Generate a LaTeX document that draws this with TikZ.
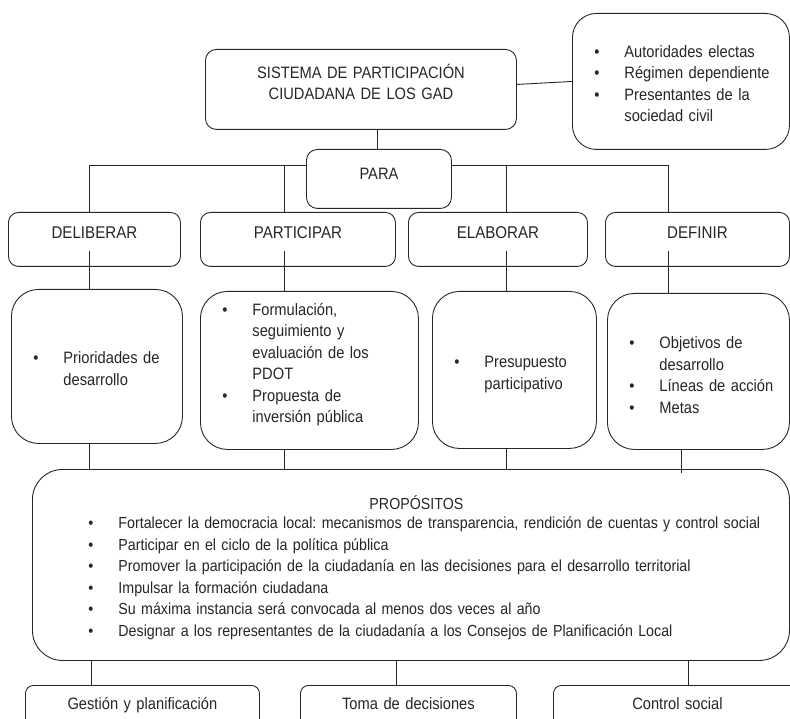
\documentclass[tikz,border=0pt]{standalone}
\usepackage{fontspec}
\setmainfont[FakeStretch=0.89]{Liberation Sans}
\frenchspacing
\newcommand{\bul}{\makebox[52pt][r]{\textbullet\hspace{25pt}}}
\newcommand{\cnt}{\hspace*{52pt}}

\begin{document}
\begin{tikzpicture}[x=1pt,y=-1pt,line width=0.9pt,color=black!85,
  box/.style={draw,anchor=north west,inner sep=0pt,font=\fontsize{16.5}{21.5}\selectfont},
  lst/.style={box,align=left},
  mid/.style={box,align=center},
  verb/.style={mid,rounded corners=10pt,text height=26pt,text depth=28pt,font=\fontsize{17}{21.5}\selectfont}]
\clip (0,0) rectangle (790,719);

% cabecera
\node[mid,rounded corners=11pt,text width=311pt,text height=29pt,text depth=51pt] (sistema) at (205,49)
  {SISTEMA DE PARTICIPACIÓN\\CIUDADANA DE LOS GAD};
\node[lst,rounded corners=24pt,text width=217pt,text height=44pt,text depth=92pt] (elect) at (572,13)
  {\bul Autoridades electas\\\bul Régimen dependiente\\\bul Presentantes de la\\\cnt sociedad civil};
\node[mid,rounded corners=11pt,text width=145pt,text height=30pt,text depth=29pt] (para) at (306,149) {PARA};

% verbos
\node[verb,text width=172pt] (delib) at (8,212) {DELIBERAR};
\node[verb,text width=195pt] (partic) at (200,212) {PARTICIPAR};
\node[verb,text width=179pt] (elab) at (408,212) {ELABORAR};
\node[verb,text width=184pt] (defin) at (605,212) {DEFINIR};

% detalle
\node[lst,rounded corners=27pt,text width=171pt,text height=74.5pt,text depth=79.5pt] (prio) at (11,289)
  {\bul Prioridades de\\\cnt desarrollo};
\node[lst,rounded corners=27pt,text width=218pt,text height=24pt,text depth=134pt] (formul) at (200,291)
  {\bul Formulación,\\\cnt seguimiento y\\\cnt evaluación de los\\\cnt PDOT\\\bul Propuesta de\\\cnt inversión pública};
\node[lst,rounded corners=27pt,text width=164pt,text height=76.5pt,text depth=80.5pt] (presup) at (432,291)
  {\bul Presupuesto\\\cnt participativo};
\node[lst,rounded corners=27pt,text width=182pt,text height=55.5pt,text depth=100.5pt] (defdet) at (607,293)
  {\bul Objetivos de\\\cnt desarrollo\\\bul Líneas de acción\\\bul Metas};

% propositos
\node[lst,rounded corners=30pt,text width=757pt,text height=40pt,text depth=151pt,
      font=\fontsize{16}{21.5}\selectfont] (propos) at (32,469)
  {\hspace*{12pt}\makebox[744pt][c]{PROPÓSITOS}\\[-2pt]
   \hspace*{34pt}\bul Fortalecer la democracia local: mecanismos de transparencia, rendición de cuentas y control social\\
   \hspace*{34pt}\bul Participar en el ciclo de la política pública\\
   \hspace*{34pt}\bul Promover la participación de la ciudadanía en las decisiones para el desarrollo territorial\\
   \hspace*{34pt}\bul Impulsar la formación ciudadana\\
   \hspace*{34pt}\bul Su máxima instancia será convocada al menos dos veces al año\\
   \hspace*{34pt}\bul Designar a los representantes de la ciudadanía a los Consejos de Planificación Local};

% ambitos
\node[mid,rounded corners=8pt,text width=234pt,text height=24.5pt,text depth=40pt] (gestion) at (25,685) {Gestión y planificación};
\node[mid,rounded corners=8pt,text width=216pt,text height=24.5pt,text depth=40pt] (toma) at (300,685) {Toma de decisiones};
\node[mid,rounded corners=8pt,text width=248pt,text height=24.5pt,text depth=40pt] (control) at (553,685) {Control social};

\coordinate (b1) at (89,165);
\coordinate (b2) at (284,165);
\coordinate (b3) at (506,165);
\coordinate (b4) at (668,165);
\coordinate (m4) at (681,0);
\coordinate (g1) at (91,0);
\coordinate (g2) at (396,0);
\coordinate (g3) at (688,0);

\draw ([yshift=5pt]sistema.east) -- (elect.west);
\draw ([xshift=-2pt]para.north) -- ([xshift=-2pt]para.north |- sistema.south);
\draw (para.west |- b1) -- (b1) -- (b1 |- delib.north);
\draw (b2) -- (b2 |- partic.north);
\draw (para.east |- b4) -- (b4) -- (b4 |- defin.north);
\draw (b3) -- (b3 |- elab.north);

\foreach \a/\b/\c in {b1/delib/prio,b2/partic/formul,b3/elab/presup,b4/defin/defdet}
  \draw ([yshift=16pt]\a |- \b.south) -- (\a |- \c.north);

\draw (b1 |- prio.south) -- (b1 |- propos.north);
\draw (b2 |- formul.south) -- (b2 |- propos.north);
\draw (b3 |- presup.south) -- (b3 |- propos.north);
\draw (m4 |- defdet.south) -- ([yshift=-4pt]m4 |- propos.north);

\draw (g1 |- propos.south) -- (g1 |- gestion.north);
\draw (g2 |- propos.south) -- (g2 |- toma.north);
\draw (g3 |- propos.south) -- (g3 |- control.north);
\end{tikzpicture}
\end{document}
